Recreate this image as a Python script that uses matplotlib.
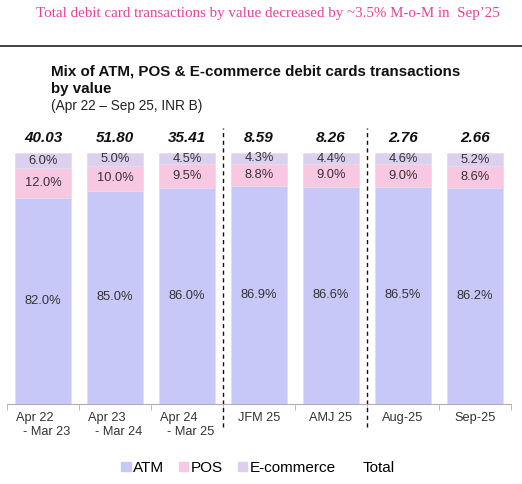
import matplotlib
matplotlib.use("Agg")
import matplotlib.pyplot as plt
from matplotlib.patches import Patch
import numpy as np

categories = ["Apr 22\n  - Mar 23", "Apr 23\n  - Mar 24", "Apr 24\n  - Mar 25",
              "JFM 25", "AMJ 25", "Aug-25", "Sep-25"]
atm = [82.0, 85.0, 86.0, 86.9, 86.6, 86.5, 86.2]
pos = [12.0, 10.0, 9.5, 8.8, 9.0, 9.0, 8.6]
ecom = [6.0, 5.0, 4.5, 4.3, 4.4, 4.6, 5.2]
totals = ["40.03", "51.80", "35.41", "8.59", "8.26", "2.76", "2.66"]
separators_after = [2, 4]

c_atm = "#c8c8f8"
c_pos = "#f8c8e2"
c_ecom = "#dccff0"
txt = "#333333"

plt.rcParams["font.family"] = ["Liberation Sans", "DejaVu Sans"]
W, H = 522, 484
fig = plt.figure(figsize=(W / 100, H / 100), dpi=100)

ax = fig.add_axes([7 / W, (H - 404) / H, (511 - 7) / W, (404 - 153) / H])
x = np.arange(len(categories))
w = 0.78
ec = "#e0e0e8"
ax.bar(x, atm, w, color=c_atm, edgecolor=ec, linewidth=0.6, label="ATM")
ax.bar(x, pos, w, bottom=atm, color=c_pos, edgecolor=ec, linewidth=0.6, label="POS")
bot2 = [a + p for a, p in zip(atm, pos)]
ax.bar(x, ecom, w, bottom=bot2, color=c_ecom, edgecolor=ec, linewidth=0.6, label="E-commerce")

fs_pct = 9.3
for i in range(len(categories)):
    ax.text(x[i], atm[i] / 2, f"{atm[i]:.1f}%", ha="center", va="center", fontsize=fs_pct, color=txt)
    ax.text(x[i], atm[i] + pos[i] / 2, f"{pos[i]:.1f}%", ha="center", va="center", fontsize=fs_pct, color=txt)
    ax.text(x[i], bot2[i] + ecom[i] / 2, f"{ecom[i]:.1f}%", ha="center", va="center", fontsize=fs_pct, color=txt)
    ax.text(x[i], 106, totals[i], ha="center", va="center", fontsize=11,
            fontweight="bold", fontstyle="italic", color="#111111")

ax.set_xlim(-0.5, len(categories) - 0.5)
ax.set_ylim(0, 100)
for s in ["top", "right", "left"]:
    ax.spines[s].set_visible(False)
ax.spines["bottom"].set_color("#b0b0b0")
ax.set_yticks([])
ax.set_xticks(x)
ax.set_xticklabels(categories, fontsize=9.2, color=txt, ha="center", multialignment="left")
ax.tick_params(axis="x", which="major", length=0, pad=6)
ax.set_xticks(np.arange(-0.5, len(categories)), minor=True)
ax.tick_params(axis="x", which="minor", length=4, color="#b0b0b0")

for s in separators_after:
    ax.plot([s + 0.5, s + 0.5], [-9, 110], ls=(0, (3, 2.5)), color="#111111",
            lw=1.0, clip_on=False)

# header
fig.text(268 / W, 1 - 14 / H, "Total debit card transactions by value decreased by ~3.5% M-o-M in  Sep\u201925",
         ha="center", va="center", fontsize=10.8, color="#e8409a",
         family=["Liberation Serif", "DejaVu Serif"])
fig.add_artist(plt.Line2D([0, 1], [1 - 46 / H, 1 - 46 / H], color="#222222", lw=1.2))

fig.text(51 / W, 1 - 72 / H, "Mix of ATM, POS & E-commerce debit cards transactions",
         ha="left", va="center", fontsize=10.9, fontweight="bold", color="#111111")
fig.text(51 / W, 1 - 89 / H, "by value", ha="left", va="center", fontsize=10.9,
         fontweight="bold", color="#111111")
fig.text(51 / W, 1 - 106 / H, "(Apr 22 \u2013 Sep 25, INR B)", ha="left", va="center",
         fontsize=9.8, color="#222222")

handles = [Patch(color=c_atm, label="ATM"), Patch(color=c_pos, label="POS"),
           Patch(color=c_ecom, label="E-commerce"), Patch(color="none", label="Total")]
fig.legend(handles=handles, loc="center", bbox_to_anchor=(258 / W, 1 - 468 / H), ncol=4,
           frameon=False, fontsize=11, handlelength=0.6, handleheight=0.6,
           handletextpad=0.15, columnspacing=1.0)

fig.savefig("out.png", dpi=100)
